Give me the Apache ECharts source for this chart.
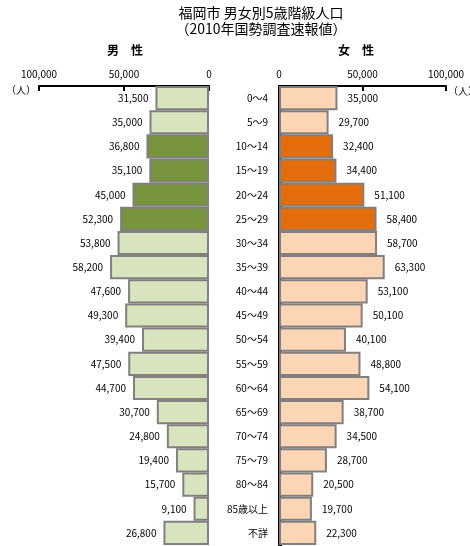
<!DOCTYPE html>
<html>
<head>
<meta charset="utf-8">
<script src="https://cdn.jsdelivr.net/npm/echarts@6/dist/echarts.min.js"></script>
<style>
  html, body { margin: 0; padding: 0; background: #fff; }
  #main { width: 470px; height: 546px; }
</style>
</head>
<body>
<div id="main"></div>
<script>
// 年齢階級
var ageGroups = ['0～4', '5～9', '10～14', '15～19', '20～24', '25～29', '30～34', '35～39',
  '40～44', '45～49', '50～54', '55～59', '60～64', '65～69', '70～74', '75～79',
  '80～84', '85歳以上', '不詳'];
// 男性人口
var maleValues = [31500, 35000, 36800, 35100, 45000, 52300, 53800, 58200, 47600, 49300,
  39400, 47500, 44700, 30700, 24800, 19400, 15700, 9100, 26800];
// 女性人口
var femaleValues = [35000, 29700, 32400, 34400, 51100, 58400, 58700, 63300, 53100, 50100,
  40100, 48800, 54100, 38700, 34500, 28700, 20500, 19700, 22300];
// 強調する階級（10～29歳）
var highlightGroups = ['10～14', '15～19', '20～24', '25～29'];

var FONT = '"Noto Sans CJK JP", "Noto Sans", sans-serif';

function fmt(v) {
  return echarts.format.addCommas(v);
}

function buildData(values, normal, dark) {
  return values.map(function (v, i) {
    var hi = highlightGroups.indexOf(ageGroups[i]) >= 0;
    return { value: v, itemStyle: { color: hi ? dark : normal } };
  });
}

var myChart = echarts.init(document.getElementById('main'), null, { renderer: 'canvas' });

var xAxisCommon = {
  type: 'value',
  position: 'top',
  min: 0,
  max: 100000,
  interval: 50000,
  axisLine: { show: true, lineStyle: { color: '#000', width: 2 } },
  axisTick: { show: true, inside: true, length: 5, lineStyle: { color: '#000', width: 2 } },
  axisLabel: { color: '#000', fontSize: 10, fontFamily: FONT, margin: 7, formatter: fmt },
  splitLine: { show: false }
};

myChart.setOption({
  animation: false,
  title: {
    text: '福岡市 男女別5歳階級人口\n（2010年国勢調査速報値）',
    left: 261,
    top: 5,
    padding: 0,
    textAlign: 'center',
    textStyle: { fontSize: 14, fontWeight: 'normal', color: '#000', fontFamily: FONT, lineHeight: 16 }
  },
  graphic: [
    { type: 'text', left: 107, top: 44, style: { text: '男　性', fill: '#000', font: 'bold 12px ' + FONT } },
    { type: 'text', left: 338, top: 44, style: { text: '女　性', fill: '#000', font: 'bold 12px ' + FONT } },
    { type: 'text', left: 6, top: 85, style: { text: '（人）', fill: '#000', font: '10px ' + FONT } },
    { type: 'text', left: 448, top: 86, style: { text: '（人）', fill: '#000', font: '10px ' + FONT } }
  ],
  grid: [
    { left: 39, width: 170, top: 86, height: 459 },
    { left: 279, width: 167, top: 86, height: 459 }
  ],
  xAxis: [
    Object.assign({ gridIndex: 0, inverse: true }, xAxisCommon),
    Object.assign({ gridIndex: 1 }, xAxisCommon)
  ],
  yAxis: [
    {
      type: 'category', gridIndex: 0, inverse: true, position: 'right',
      data: ageGroups,
      axisLine: { show: false }, axisTick: { show: false }, axisLabel: { show: false }
    },
    {
      type: 'category', gridIndex: 1, inverse: true, position: 'left',
      data: ageGroups,
      axisLine: { show: true, lineStyle: { color: '#000', width: 2 } },
      axisTick: { show: true, inside: true, length: 3, lineStyle: { color: '#000', width: 2 } },
      axisLabel: { color: '#000', fontSize: 10, fontFamily: FONT, margin: 11 }
    }
  ],
  series: [
    {
      name: '男性', type: 'bar', xAxisIndex: 0, yAxisIndex: 0,
      barCategoryGap: '0%',
      data: buildData(maleValues, '#D7E4BD', '#77933C'),
      itemStyle: { borderColor: '#808080', borderWidth: 2 },
      label: { show: true, position: 'left', distance: 7, color: '#000', fontSize: 10, fontFamily: FONT,
        formatter: function (p) { return fmt(p.value); } }
    },
    {
      name: '女性', type: 'bar', xAxisIndex: 1, yAxisIndex: 1,
      barCategoryGap: '0%',
      data: buildData(femaleValues, '#FCD5B5', '#E46C0A'),
      itemStyle: { borderColor: '#808080', borderWidth: 2 },
      label: { show: true, position: 'right', distance: 10, color: '#000', fontSize: 10, fontFamily: FONT,
        formatter: function (p) { return fmt(p.value); } }
    }
  ]
});
</script>
</body>
</html>
